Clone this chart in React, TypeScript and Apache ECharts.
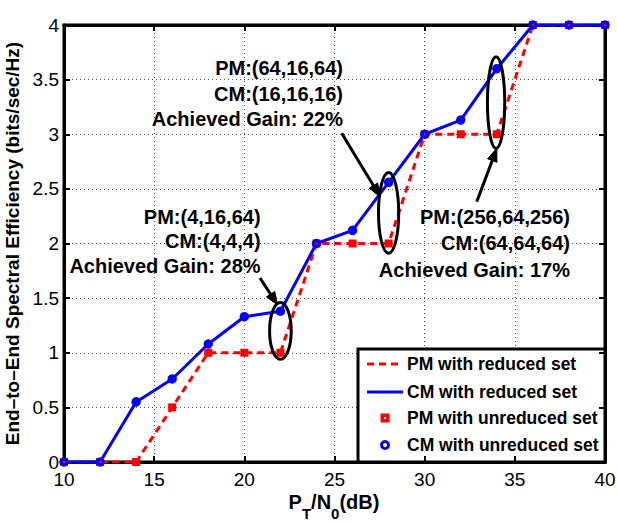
import React, { useEffect, useRef } from 'react';
import * as echarts from 'echarts';

const xValues = [10, 12, 14, 16, 18, 20, 22, 24, 26, 28, 30, 32, 34, 36, 38, 40];
const pmReduced = [0, 0, 0, 0.5, 1, 1, 1, 2, 2, 2, 3, 3, 3, 4, 4, 4];
const cmReduced = [0, 0, 0.55, 0.76, 1.08, 1.33, 1.38, 2, 2.12, 2.56, 3, 3.13, 3.6, 4, 4, 4];
const pmUnreduced = [0, 0, 0, 0.5, 1, 1, 1, 2, 2, 2, 3, 3, 3, 4, 4, 4];
const cmUnreduced = [0, 0, 0.55, 0.76, 1.08, 1.33, 1.38, 2, 2.12, 2.56, 3, 3.13, 3.6, 4, 4, 4];

const seriesNames = [
  'PM with reduced set',
  'CM with reduced set',
  'PM with unreduced set',
  'CM with unreduced set',
];

// x title pieces: [text, isSubscript]
const xTitleParts: [string, boolean][] = [['P', false], ['T', true], ['/N', false], ['0', true], ['(dB)', false]];
const yTitle = 'End\u2013to\u2013End Spectral Efficiency (bits/sec/Hz)';

// annotations in data units
const ellipses = [
  { cx: 22, cy: 1.2, rx: 0.6, ry: 0.26 },
  { cx: 28, cy: 2.28, rx: 0.56, ry: 0.37 },
  { cx: 33.96, cy: 3.29, rx: 0.48, ry: 0.42 },
];
const arrows = [
  { from: [20.87, 1.684], to: [21.85, 1.437] },
  { from: [25.4, 3.009], to: [27.53, 2.428] },
  { from: [32.89, 2.383], to: [34.0, 2.871] },
];
const textBlocks = [
  { x: 25.47, ys: [3.606, 3.368, 3.14], lines: ['PM:(64,16,64)', 'CM:(16,16,16)', 'Achieved Gain: 22%'] },
  { x: 20.9, ys: [2.243, 2.023, 1.794], lines: ['PM:(4,16,64)', 'CM:(4,4,4)', 'Achieved Gain: 28%'] },
  { x: 38.06, ys: [2.243, 2.005, 1.757], lines: ['PM:(256,64,256)', 'CM:(64,64,64)', 'Achieved Gain: 17%'] },
];

const FONT = '"Liberation Sans", Arial, Helvetica, sans-serif';
const RED = '#ff0000';
const BLUE = '#0000ff';

export default function App() {
  const ref = useRef<HTMLDivElement>(null);
  useEffect(() => {
    if (!ref.current) return;
    const chart = echarts.init(ref.current, null, { renderer: 'svg' });
    const pairs = (ys: number[]) => xValues.map((x, i) => [x, ys[i]]);
    const splitLine = { show: true, lineStyle: { color: '#555', type: [1, 3], width: 1 } };
    const option: any = {
      animation: false,
      backgroundColor: '#fff',
      grid: {
        left: 64, right: 12, top: 25, bottom: 61, show: true, borderColor: '#000', borderWidth: 3,
        containLabel: false, outerBoundsMode: 'none',
      },
      xAxis: [
        {
          type: 'value', min: 10, max: 40, interval: 5,
          axisLine: { show: true, onZero: false, lineStyle: { color: '#000', width: 3 } },
          axisTick: { show: true, inside: true, length: 6, lineStyle: { color: '#000', width: 2 } },
          axisLabel: { color: '#000', fontFamily: FONT, fontSize: 19, margin: 8 },
          splitLine,
        },
        {
          type: 'value', min: 10, max: 40, interval: 5, position: 'top',
          axisLine: { show: true, onZero: false, lineStyle: { color: '#000', width: 3 } },
          axisTick: { show: true, inside: true, length: 6, lineStyle: { color: '#000', width: 2 } },
          axisLabel: { show: false },
          splitLine: { show: false },
        },
      ],
      yAxis: [
        {
          type: 'value', min: 0, max: 4, interval: 0.5,
          axisLine: { show: true, onZero: false, lineStyle: { color: '#000', width: 3 } },
          axisTick: { show: true, inside: true, length: 6, lineStyle: { color: '#000', width: 2 } },
          axisLabel: { color: '#000', fontFamily: FONT, fontSize: 19, margin: 5 },
          splitLine,
          name: yTitle,
          nameLocation: 'middle',
          nameRotate: 90,
          nameGap: 36,
          nameTextStyle: { fontFamily: FONT, fontWeight: 'bold', fontSize: 19, color: '#000' },
        },
        {
          type: 'value', min: 0, max: 4, interval: 0.5, position: 'right',
          axisLine: { show: true, onZero: false, lineStyle: { color: '#000', width: 3 } },
          axisTick: { show: true, inside: true, length: 6, lineStyle: { color: '#000', width: 2 } },
          axisLabel: { show: false },
          splitLine: { show: false },
        },
      ],
      series: [
        {
          name: seriesNames[0], type: 'line', data: pairs(pmReduced), symbol: 'none',
          lineStyle: { color: RED, width: 3, type: [7, 5] }, z: 3,
        },
        {
          name: seriesNames[1], type: 'line', data: pairs(cmReduced), symbol: 'none',
          lineStyle: { color: BLUE, width: 3 }, z: 4,
        },
        {
          name: seriesNames[2], type: 'scatter', data: pairs(pmUnreduced), symbol: 'rect', symbolSize: 8,
          itemStyle: { color: RED, opacity: 1 }, z: 5,
        },
        {
          name: seriesNames[3], type: 'scatter', data: pairs(cmUnreduced), symbol: 'circle', symbolSize: 6,
          itemStyle: { color: 'rgba(0,0,0,0)', borderColor: BLUE, borderWidth: 3.5, opacity: 1 }, z: 6,
        },
      ],
    };
    chart.setOption(option);

    const px = (x: number, y: number) => chart.convertToPixel({ gridIndex: 0 }, [x, y]) as number[];
    const graphics: any[] = [];
    ellipses.forEach((e) => {
      const c = px(e.cx, e.cy);
      const r = px(e.cx + e.rx, e.cy + e.ry);
      graphics.push({
        type: 'ellipse', z: 100,
        shape: { cx: c[0], cy: c[1], rx: r[0] - c[0], ry: c[1] - r[1] },
        style: { fill: 'none', stroke: '#000', lineWidth: 3 },
      });
    });
    // arrows
    const headLen = 13, headHalf = 5;
    arrows.forEach((a) => {
      const p0 = px(a.from[0], a.from[1]);
      const p1 = px(a.to[0], a.to[1]);
      const dx = p1[0] - p0[0], dy = p1[1] - p0[1];
      const len = Math.hypot(dx, dy);
      const ux = dx / len, uy = dy / len;
      const bx = p1[0] - ux * headLen, by = p1[1] - uy * headLen;
      graphics.push({
        type: 'line', z: 100,
        shape: { x1: p0[0], y1: p0[1], x2: bx + ux * 2, y2: by + uy * 2 },
        style: { stroke: '#000', lineWidth: 3 },
      });
      graphics.push({
        type: 'polygon', z: 100,
        shape: { points: [[p1[0], p1[1]], [bx - uy * headHalf, by + ux * headHalf], [bx + uy * headHalf, by - ux * headHalf]] },
        style: { fill: '#000', stroke: '#000', lineWidth: 1 },
      });
    });
    textBlocks.forEach((b) => {
      b.lines.forEach((t, i) => {
        const p = px(b.x, b.ys[i]);
        graphics.push({
          type: 'text', z: 100, x: p[0], y: p[1],
          style: {
            text: t, fill: '#000', font: `bold 20px ${FONT}`,
            textAlign: 'right', textVerticalAlign: 'middle', align: 'right', verticalAlign: 'middle',
          },
        });
      });
    });

    // x axis title with subscripts
    const ctx = document.createElement('canvas').getContext('2d')!;
    const mainFont = `bold 20px ${FONT}`;
    const subFont = `bold 15px ${FONT}`;
    const widths = xTitleParts.map(([t, sub]) => {
      ctx.font = sub ? subFont : mainFont;
      return ctx.measureText(t).width;
    });
    const total = widths.reduce((a, b) => a + b, 0);
    let cx = 334 - total / 2;
    xTitleParts.forEach(([t, sub], i) => {
      graphics.push({
        type: 'text', z: 100, x: cx, y: sub ? 513 : 502,
        style: { text: t, fill: '#000', font: sub ? subFont : mainFont, textVerticalAlign: 'middle', verticalAlign: 'middle' },
      });
      cx += widths[i];
    });

    // legend
    const lx = 358, ly = 349, lw = 247, lh = 113;
    const rows = [364, 392, 418, 445];
    const legendChildren: any[] = [
      { type: 'rect', shape: { x: lx, y: ly, width: lw, height: lh }, style: { fill: '#fff', stroke: '#000', lineWidth: 3 } },
      { type: 'line', shape: { x1: 367, y1: rows[0], x2: 403, y2: rows[0] }, style: { stroke: RED, lineWidth: 3, lineDash: [7, 5] } },
      { type: 'line', shape: { x1: 367, y1: rows[1], x2: 403, y2: rows[1] }, style: { stroke: BLUE, lineWidth: 3 } },
      { type: 'rect', shape: { x: 380.5, y: rows[2] - 4.5, width: 9, height: 9 }, style: { fill: RED } },
      { type: 'rect', shape: { x: 384, y: rows[2] - 1, width: 2, height: 2 }, style: { fill: '#fff' } },
      { type: 'circle', shape: { cx: 385, cy: rows[3], r: 3.5 }, style: { fill: '#fff', stroke: BLUE, lineWidth: 3 } },
    ];
    seriesNames.forEach((n, i) => {
      legendChildren.push({
        type: 'text', x: 407, y: rows[i],
        style: { text: n, fill: '#000', font: `bold 17.5px ${FONT}`, textVerticalAlign: 'middle', verticalAlign: 'middle' },
      });
    });
    graphics.push({ type: 'group', z: 110, children: legendChildren });
    chart.setOption({ graphic: graphics });

    return () => chart.dispose();
  }, []);
  return <div ref={ref} style={{ position: 'fixed', left: 0, top: 0, width: 617, height: 523 }} />;
}
